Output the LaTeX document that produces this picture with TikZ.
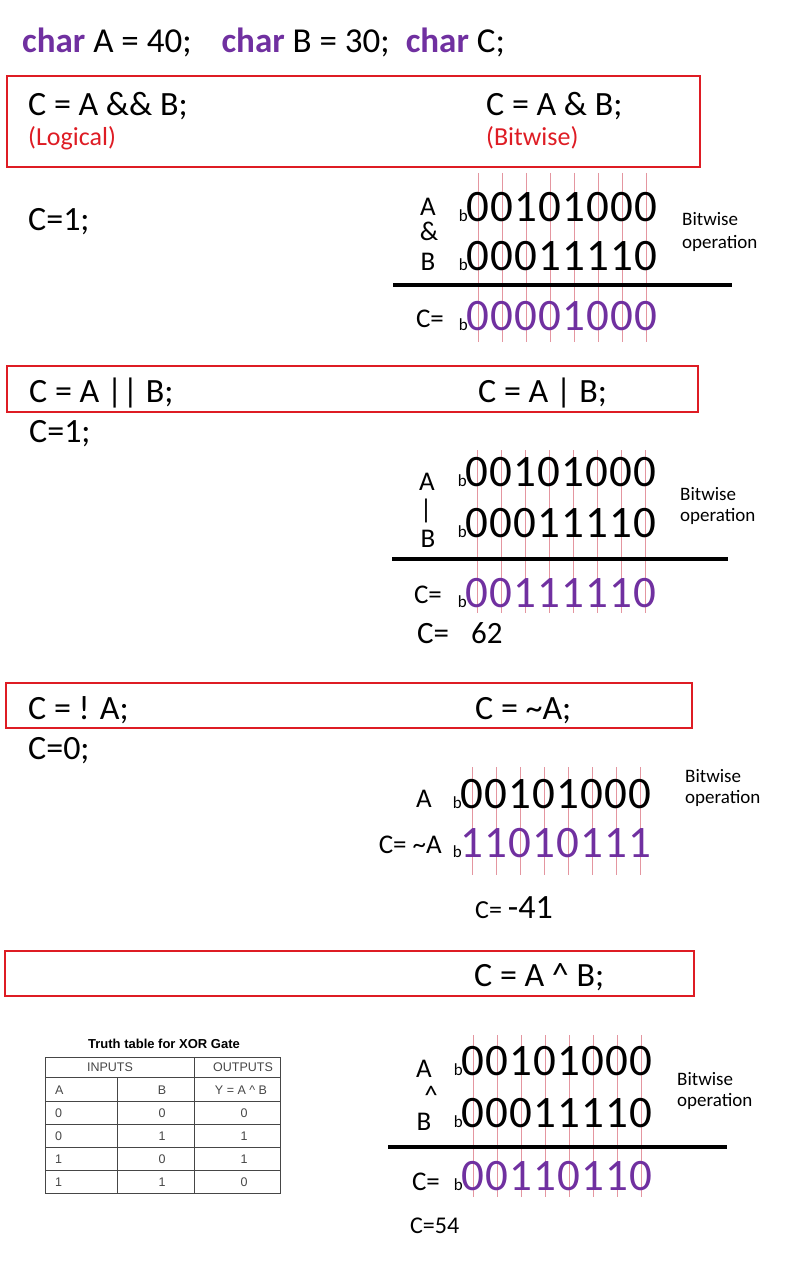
\documentclass[tikz,border=0pt]{standalone}
\usepackage{fontspec}
\setmainfont{Carlito}
\newfontfamily\tablefont{Liberation Sans}
\definecolor{boxred}{RGB}{222,28,36}
\definecolor{kwpurple}{RGB}{112,48,160}
\definecolor{guide}{RGB}{228,150,160}
\definecolor{tabgray}{RGB}{70,70,70}
\newcommand{\fsize}[1]{\fontsize{#1}{#1}\selectfont}
\newcommand{\kw}[1]{\textbf{\color{kwpurple}#1}}
\newcommand{\bitrow}[5]{
  \node[bsub] (#1b) at ({#2+2},#3) {b};
  \foreach \d [count=\i] in {#5}
    \node[bit,text=#4] (#1\i) at ({#2+24*\i-12},#3) {\d};
}
\newcommand{\guides}[3]{
  \foreach \i in {1,...,8}
    \draw[guide line] ({#1+24*\i-12},#2) -- ({#1+24*\i-12},#3);
}
\newcommand{\opnote}[4]{
  \node[remark] (#1up) at (#2,#3) {Bitwise};
  \node[remark] (#1low) at (#2,#4) {operation};
}
\tikzset{
  code/.style={font=\fsize{34}, anchor=base west, inner sep=0pt},
  note/.style={font=\fsize{26}, text=boxred, anchor=base west, inner sep=0pt},
  opname/.style={font=\fsize{27}, anchor=base, inner sep=0pt},
  bit/.style={font=\fsize{45}, anchor=base, inner sep=0pt},
  bsub/.style={font=\fsize{17}, anchor=base east, inner sep=0pt},
  remark/.style={font=\fsize{19}, anchor=base west, inner sep=0pt},
  redbox/.style={draw=boxred, line width=2.2pt},
  guide line/.style={draw=guide, line width=0.7pt},
  sumbar/.style={line width=4pt},
  cell/.style={font=\tablefont\fsize{12.5}, text=tabgray, anchor=base, inner sep=0pt},
  grid line/.style={draw=tabgray, line width=0.8pt}
}

\begin{document}
\begin{tikzpicture}[x=1pt,y=-1pt]
        \useasboundingbox (0,0) rectangle (792,1268);
        %header
        \node[code,font=\fsize{35}] (decl) at (22,53) {\kw{char} A = 40;\hspace{30pt}\kw{char} B = 30;\hspace{16pt}\kw{char} C;};
        %boxes
        \draw[redbox] (7,76) rectangle (700,167);
        \draw[redbox] (7,366) rectangle (698,412);
        \draw[redbox] (6,683) rectangle (692,728);
        \draw[redbox] (5,951) rectangle (694,996);
        %statements
        \node[code] (land) at (28,116) {C = A \&\& B;};
        \node[note] (logical) at (28,146) {(Logical)};
        \node[code] (band) at (486,116) {C = A \& B;};
        \node[note] (bitwise) at (486,146) {(Bitwise)};
        \node[code] (landres) at (28,230) {C=1;};
        \node[code] (lor) at (29,402) {C = A || B;};
        \node[code] (bor) at (478,402) {C = A | B;};
        \node[code] (lorres) at (29,442) {C=1;};
        \node[code] (lnot) at (28,719) {C = ! A;};
        \node[code] (bnot) at (475,719) {C = \textasciitilde A;};
        \node[code] (lnotres) at (28,759) {C=0;};
        \node[code] (bxor) at (474,986) {C = A \textasciicircum{} B;};

        %and
        \guides{466}{173}{342}
        \node[opname] (andopa) at (428,215) {A};
        \node[opname] (andop) at (429,240) {\&};
        \node[opname] (andopb) at (428,270) {B};
        \bitrow{andA}{466}{222}{black}{0,0,1,0,1,0,0,0}
        \bitrow{andB}{466}{270}{black}{0,0,0,1,1,1,1,0}
        \draw[sumbar] (393,285) -- (732,285);
        \node[opname] (andc) at (430,327) {C=};
        \bitrow{andC}{466}{330}{kwpurple}{0,0,0,0,1,0,0,0}
        \opnote{and}{682}{225}{248}

        %or
        \guides{465}{450}{613}
        \node[opname] (oropa) at (427,490) {A};
        \node[opname] (orop) at (426,518) {|};
        \node[opname] (oropb) at (428,547) {B};
        \bitrow{orA}{465}{486}{black}{0,0,1,0,1,0,0,0}
        \bitrow{orB}{465}{537}{black}{0,0,0,1,1,1,1,0}
        \draw[sumbar] (392,559) -- (728,559);
        \node[opname] (orc) at (428,603) {C=};
        \bitrow{orC}{465}{607}{kwpurple}{0,0,1,1,1,1,1,0}
        \node[code,font=\fsize{31}] (orval) at (417,643) {C=\hspace{22pt}62};
        \opnote{or}{680}{500}{521}

        %not
        \guides{460}{767}{875}
        \node[opname] (notopa) at (424,807) {A};
        \bitrow{notA}{460}{808}{black}{0,0,1,0,1,0,0,0}
        \node[opname,anchor=base east] (notc) at (442,853) {C= \textasciitilde A};
        \bitrow{notC}{460}{857}{kwpurple}{1,1,0,1,0,1,1,1}
        \node[code] (notval) at (475,918) {{\fsize{26}C= }{\fsize{34}-41}};
        \opnote{not}{685}{782}{803}

        %xor
        \node[font=\tablefont\bfseries\fsize{13}, anchor=base] (ttitle) at (164,1048) {Truth table for XOR Gate};
        \draw[grid line] (45,1057) rectangle (280,1193);
        \foreach \y in {1077,1101,1124,1147,1170}
          \draw[grid line] (45,\y) -- (280,\y);
        \draw[grid line] (194,1057) -- (194,1193);
        \draw[grid line] (117,1077) -- (117,1193);
        \node[cell] (tin) at (110,1071.5) {INPUTS};
        \node[cell] (tout) at (243,1071.5) {OUTPUTS};
        \node[cell,anchor=base west] (tha) at (55,1094) {A};
        \node[cell] (thb) at (162,1094) {B};
        \node[cell] (thy) at (241,1094) {Y = A \textasciicircum{} B};
        \foreach \a/\b/\y [count=\r] in {0/0/0,0/1/1,1/0/1,1/1/0} {
          \node[cell,anchor=base west] (ta\r) at (55,1094+23*\r) {\a};
          \node[cell] (tb\r) at (162,1094+23*\r) {\b};
          \node[cell] (ty\r) at (244,1094+23*\r) {\y};
        }
        \guides{461}{1035}{1197}
        \node[opname] (xoropa) at (424,1077) {A};
        \node[opname] (xorop) at (431,1104) {\textasciicircum};
        \node[opname] (xoropb) at (424,1130) {B};
        \bitrow{xorA}{461}{1075}{black}{0,0,1,0,1,0,0,0}
        \bitrow{xorB}{461}{1127}{black}{0,0,0,1,1,1,1,0}
        \draw[sumbar] (388,1147) -- (727,1147);
        \node[opname] (xorc) at (426,1190) {C=};
        \bitrow{xorC}{461}{1190}{kwpurple}{0,0,1,1,0,1,1,0}
        \node[code,font=\fsize{24}] (xorval) at (410,1233) {C=54};
        \opnote{xor}{677}{1085}{1106}
\end{tikzpicture}
\end{document}
